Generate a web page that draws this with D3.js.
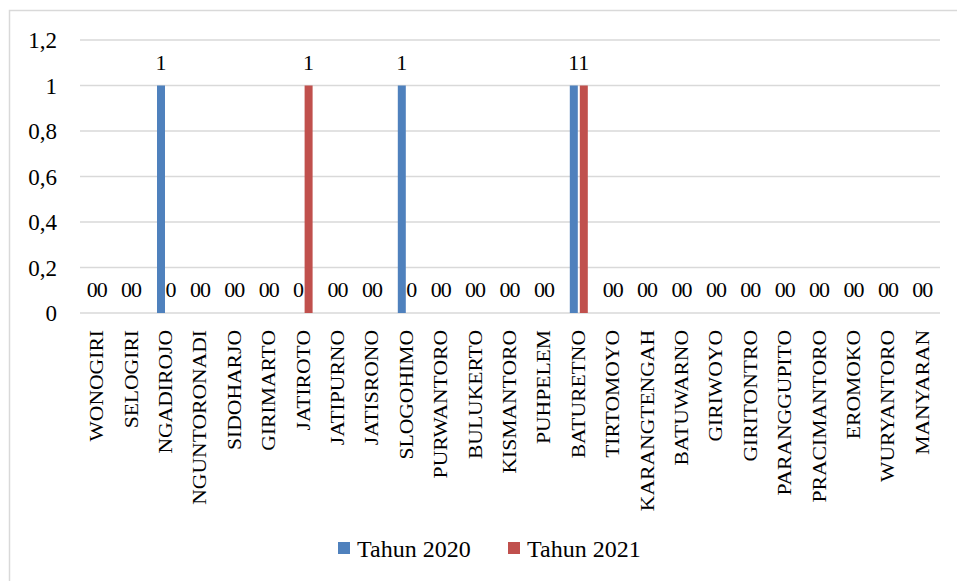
<!DOCTYPE html>
<html>
<head>
<meta charset="utf-8">
<script src="https://cdn.jsdelivr.net/npm/d3@7"></script>
<style>
  html, body { margin: 0; padding: 0; background: #fff; }
  svg { display: block; }
</style>
</head>
<body>
<svg id="chart" width="957" height="581"></svg>
<script>
// Kecamatan names along the x axis
const categories = [
  "WONOGIRI", "SELOGIRI", "NGADIROJO", "NGUNTORONADI", "SIDOHARJO", "GIRIMARTO",
  "JATIROTO", "JATIPURNO", "JATISRONO", "SLOGOHIMO", "PURWANTORO", "BULUKERTO",
  "KISMANTORO", "PUHPELEM", "BATURETNO", "TIRTOMOYO", "KARANGTENGAH", "BATUWARNO",
  "GIRIWOYO", "GIRITONTRO", "PARANGGUPITO", "PRACIMANTORO", "EROMOKO", "WURYANTORO",
  "MANYARAN"
];
const seriesNames = ["Tahun 2020", "Tahun 2021"];
const values2020 = [0, 0, 1, 0, 0, 0, 0, 0, 0, 1, 0, 0, 0, 0, 1, 0, 0, 0, 0, 0, 0, 0, 0, 0, 0];
const values2021 = [0, 0, 0, 0, 0, 0, 1, 0, 0, 0, 0, 0, 0, 0, 1, 0, 0, 0, 0, 0, 0, 0, 0, 0, 0];
const yTicks = [0, 0.2, 0.4, 0.6, 0.8, 1, 1.2];
const colors = ["#4f81bd", "#c0504d"];

const SERIF = "'Liberation Serif', 'Times New Roman', serif";

const svg = d3.select("#chart");
const W = 957, H = 581;
const plot = { left: 80, right: 940, top: 40, bottom: 313 };

// outer frame
svg.append("rect")
  .attr("x", 9.5).attr("y", 10.5)
  .attr("width", W + 20).attr("height", H + 20)
  .attr("fill", "none").attr("stroke", "#d9d9d9").attr("stroke-width", 1.5);

const x = d3.scaleBand().domain(categories).range([plot.left, plot.right]).paddingInner(0).paddingOuter(0);
const y = d3.scaleLinear().domain([0, 1.2]).range([plot.bottom, plot.top]);

const barW = 8, barGap = 2;
const offsets = [-(barW + barGap) / 2, (barW + barGap) / 2];

// horizontal gridlines
svg.append("g")
  .selectAll("line")
  .data(yTicks)
  .join("line")
  .attr("x1", plot.left).attr("x2", plot.right)
  .attr("y1", d => y(d)).attr("y2", d => y(d))
  .attr("stroke", "#d9d9d9").attr("stroke-width", 1.5);

// y axis labels
const fmt = d => d3.format("")(d).replace(".", ",");
const yAxis = d3.axisLeft(y).tickValues(yTicks).tickFormat(fmt).tickSize(0).tickPadding(0);
const yg = svg.append("g").attr("transform", "translate(57,0)").call(yAxis);
yg.select(".domain").remove();
yg.selectAll("text")
  .style("font-family", SERIF)
  .style("font-size", "23px").attr("fill", "#000").attr("dy", "0.34em");

// bars and data labels
const seriesValues = [values2020, values2021];
seriesValues.forEach((vals, si) => {
  const data = categories.map((c, i) => ({ c, v: vals[i] }));
  const cx = d => x(d.c) + x.bandwidth() / 2 + offsets[si];
  svg.append("g")
    .selectAll("rect")
    .data(data.filter(d => d.v > 0))
    .join("rect")
    .attr("x", d => cx(d) - barW / 2)
    .attr("y", d => y(d.v))
    .attr("width", barW)
    .attr("height", d => y(0) - y(d.v))
    .attr("fill", colors[si]);
  svg.append("g")
    .selectAll("text")
    .data(data)
    .join("text")
    .attr("x", cx)
    .attr("y", d => y(d.v) - 16)
    .attr("text-anchor", "middle")
    .style("font-family", SERIF)
    .style("font-size", "22px")
    .attr("fill", "#000")
    .text(d => d.v);
});

// category labels, rotated
const xAxis = d3.axisBottom(x).tickSize(0).tickPadding(0);
const xg = svg.append("g").attr("transform", `translate(0,${plot.bottom})`).call(xAxis);
xg.select(".domain").remove();
xg.selectAll("text")
  .style("font-family", SERIF)
  .style("font-size", "18px").attr("fill", "#000")
  .attr("text-anchor", "end")
  .attr("dy", null).attr("y", null)
  .attr("transform", "translate(6,17) rotate(-90) scale(1.2,1)");

// legend
const legend = svg.append("g");
const legendX = [338, 508];
seriesNames.forEach((name, i) => {
  legend.append("rect")
    .attr("x", legendX[i]).attr("y", 542)
    .attr("width", 12).attr("height", 12)
    .attr("fill", colors[i]);
  legend.append("text")
    .attr("x", legendX[i] + 19).attr("y", 557)
    .style("font-family", SERIF)
    .style("font-size", "24px")
    .attr("fill", "#000")
    .text(name);
});
</script>
</body>
</html>
